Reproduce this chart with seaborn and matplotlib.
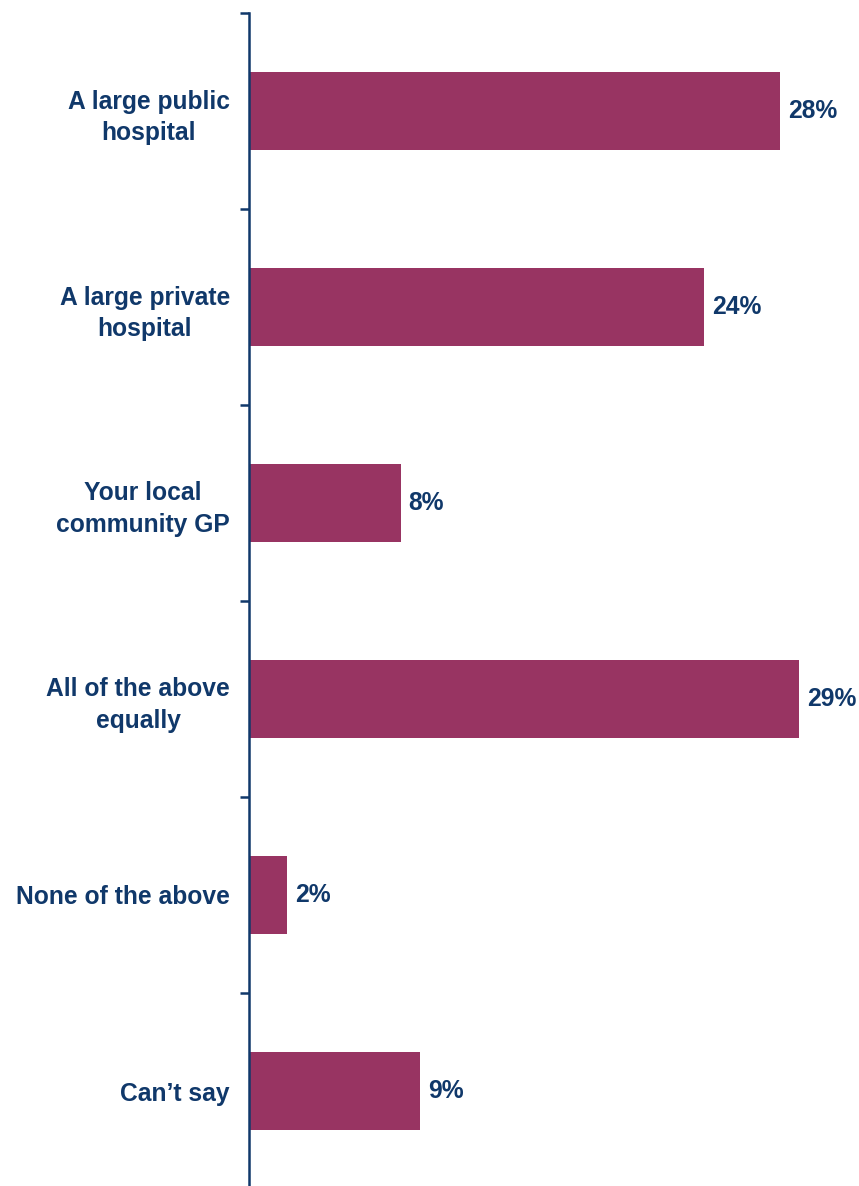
import matplotlib
matplotlib.use("Agg")
import matplotlib.pyplot as plt
import matplotlib.transforms as mtransforms
import seaborn as sns
import pandas as pd
import numpy as np

categories = [
    "A large public\nhospital",
    "A large private\nhospital",
    "Your local\ncommunity GP",
    "All of the above\nequally",
    "None of the above",
    "Can\u2019t say",
]
values = [28, 24, 8, 29, 2, 9]
value_labels = ["28%", "24%", "8%", "29%", "2%", "9%"]

BAR = "#983462"
NAVY = "#10386a"

sns.set_theme(style="white")
plt.rcParams["font.family"] = ["Liberation Sans", "DejaVu Sans"]

df = pd.DataFrame({"category": categories, "value": values})

W, H = 859, 1186
fig = plt.figure(figsize=(W / 100, H / 100), dpi=100)
ax_left = 249 / W
ax_top = 13 / H
ax = fig.add_axes([ax_left, 0, 1 - ax_left, 1 - ax_top])

sns.barplot(data=df, y="category", x="value", orient="h", color=BAR,
            width=0.40, saturation=1, ax=ax, edgecolor="none")

px_per_unit = 18.96
ax.set_xlim(0, (W - 249) / px_per_unit)
span = (H - 13) / 196.0
ax.set_ylim(-0.5 + span, -0.5)

for s in ["top", "right", "bottom"]:
    ax.spines[s].set_visible(False)
ax.spines["left"].set_color(NAVY)
ax.spines["left"].set_linewidth(1.8)

ax.set_xticks([])
ax.set_xlabel("")
ax.set_ylabel("")

ax.set_yticks(range(len(categories)))
ax.set_yticklabels(categories, fontsize=17.7, fontweight="bold", color=NAVY,
                   multialignment="center")
lift = mtransforms.ScaledTranslation(0, 3 / 100, fig.dpi_scale_trans)
for lab in ax.get_yticklabels():
    lab.set_linespacing(1.42)
    lab.set_transform(lab.get_transform() + lift)
ax.tick_params(axis="y", which="major", left=True, length=0, pad=13.7)
ax.set_yticks(np.arange(-0.5, len(categories) - 0.5, 1.0), minor=True)
ax.tick_params(axis="y", which="minor", left=True, length=6.5, width=1.8,
               color=NAVY, direction="out")

ax.bar_label(ax.containers[0], labels=value_labels, padding=5.8,
             fontsize=17.7, fontweight="bold", color=NAVY)

fig.savefig("out.png", dpi=100, facecolor="white")
